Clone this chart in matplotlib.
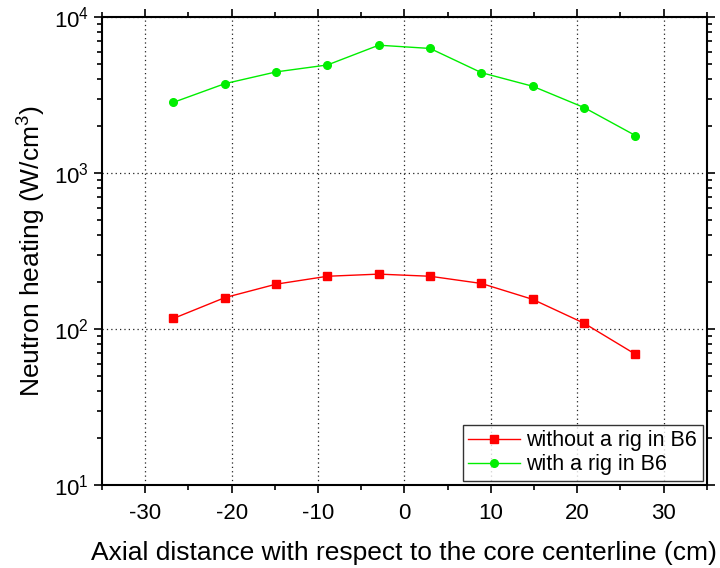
import matplotlib
matplotlib.use("Agg")
import matplotlib.pyplot as plt
from matplotlib.ticker import MultipleLocator, LogLocator, NullFormatter

plt.rcParams['font.family'] = ['Liberation Sans', 'DejaVu Sans']
plt.rcParams['mathtext.fontset'] = 'custom'
plt.rcParams['mathtext.rm'] = 'Liberation Sans'
plt.rcParams['mathtext.it'] = 'Liberation Sans:italic'
plt.rcParams['axes.unicode_minus'] = False

# Axial positions (cm) and neutron heating (W/cm^3)
axial_cm = [-26.73, -20.79, -14.85, -8.91, -2.97, 2.97, 8.91, 14.85, 20.79, 26.73]
without_rig = [117, 159, 194, 218, 225, 218, 196, 155, 109, 69]
with_rig = [2840, 3740, 4450, 4930, 6600, 6290, 4400, 3600, 2630, 1740]

fig = plt.figure(figsize=(7.2, 5.68), dpi=100)
ax = fig.add_axes([0.1417, 0.146, 0.840, 0.824])

ax.plot(axial_cm, without_rig, color='#ff0000', lw=1.0, marker='s', ms=5.5,
        label='without a rig in B6')
ax.plot(axial_cm, with_rig, color='#00ee00', lw=1.0, marker='o', ms=5.5,
        label='with a rig in B6')

ax.set_yscale('log')
ax.set_xlim(-35, 35)
ax.set_ylim(10, 1e4)
ax.xaxis.set_major_locator(MultipleLocator(10))
ax.xaxis.set_minor_locator(MultipleLocator(5))
ax.yaxis.set_major_locator(LogLocator(base=10))
ax.yaxis.set_minor_locator(LogLocator(base=10, subs=range(2, 10)))
ax.yaxis.set_minor_formatter(NullFormatter())

ax.grid(True, which='major', color='#222222', linestyle=(0, (1, 2.5)), lw=0.9)

for s in ax.spines.values():
    s.set_linewidth(1.5)
ax.tick_params(which='both', direction='out', top=True, right=True,
               labeltop=False, labelright=False, width=1.2)
ax.tick_params(which='major', length=6, labelsize=16)
ax.tick_params(axis='x', which='major', pad=7)
ax.tick_params(which='minor', length=3.5)

ax.set_xlabel('Axial distance with respect to the core centerline (cm)',
              fontsize=19, labelpad=12)
ax.set_ylabel('Neutron heating (W/cm$^3$)', fontsize=19, labelpad=4)

leg = ax.legend(loc='lower right', fontsize=15.5, frameon=True, fancybox=False,
                edgecolor='black', borderaxespad=0.2, handlelength=2.4,
                handletextpad=0.3, borderpad=0.25, labelspacing=0.15)
leg.get_frame().set_linewidth(1.0)

fig.savefig('out.png', dpi=100)
